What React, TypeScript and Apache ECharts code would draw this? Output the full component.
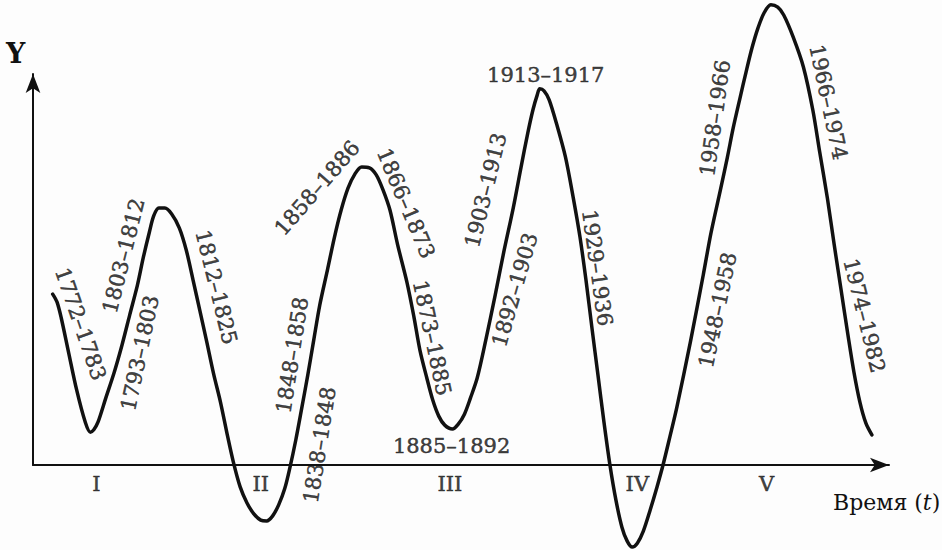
import React, { useEffect, useRef } from "react";
import * as echarts from "echarts";

// Curve of the long waves: abstract time (0..100) vs. level (time axis at 0)
const timeX = [
  2.3, 2.8, 3.3, 4.1, 5.1, 6.1, 6.7, 7.1, 7.6, 8.5, 9.5, 10.4, 11.3, 12.2, 12.9, 13.6,
  14.1, 14.7, 15.4, 16.2, 17.1, 17.9, 18.7, 19.5, 20.3, 21.1, 21.9, 22.7, 23.4, 24.2,
  25.0, 25.8, 26.6, 27.3, 28.0, 28.7, 29.4, 30.0, 30.7, 31.4, 32.1, 32.8, 33.5, 34.4,
  35.2, 36.0, 36.8, 37.6, 38.4, 39.3, 40.1, 40.9, 41.7, 42.6, 43.7, 44.5, 45.2, 46.0,
  46.7, 47.4, 48.1, 49.0, 49.7, 50.4, 51.1, 51.9, 52.9, 54.0, 55.0, 56.1, 57.0, 57.8,
  58.4, 58.9, 59.2, 59.7, 60.3, 61.2, 62.2, 63.1, 63.9, 64.6, 65.3, 66.0, 66.7, 67.4,
  68.1, 68.8, 69.4, 70.0, 70.6, 71.3, 72.1, 72.9, 73.6, 74.4, 75.2, 76.8, 78.3, 79.2,
  80.3, 81.1, 81.8, 82.6, 83.3, 84.0, 84.7, 85.4, 86.2, 87.0, 87.7, 88.8, 90.0, 91.1,
  91.9, 92.8, 93.6, 94.4, 95.2, 95.9, 96.6, 97.3, 98.0
];
const levelY = [
  43.7, 41.7, 37.6, 29.4, 19.2, 11.0, 8.4, 9.0, 11.0, 17.1, 23.8, 30.7, 38.4, 46.0, 53.2, 59.6,
  63.7, 65.7, 65.7, 64.2, 60.6, 55.0, 47.3, 39.4, 31.5, 23.3, 16.1, 7.7, 0.8, -5.6,
  -9.7, -12.5, -14.1, -14.3, -13.0, -10.2, -6.1, -0.8, 6.4, 14.6, 23.0, 32.0, 40.9, 49.9,
  58.1, 65.2, 70.8, 74.4, 76.2, 76.0, 74.2, 70.3, 65.2, 56.3, 46.6, 37.9, 29.4, 22.3,
  16.6, 12.5, 10.2, 9.2, 10.5, 13.0, 17.1, 22.3, 32.0, 43.5, 54.5, 65.7, 76.0, 84.9,
  90.8, 94.6, 96.2, 95.7, 93.4, 87.0, 78.8, 68.5, 58.3, 47.3, 35.0, 23.0, 11.0, 0.0,
  -9.0, -15.9, -19.4, -21.0, -20.0, -16.9, -11.5, -5.6, 0.0, 7.2, 14.6, 31.5, 48.6, 59.3,
  70.3, 78.5, 86.2, 93.9, 100.5, 106.7, 111.8, 115.6, 117.7, 117.1, 115.1, 109.5, 101.8, 90.8,
  80.1, 68.3, 56.3, 44.8, 33.3, 23.8, 16.1, 10.7, 7.7
];

// Period labels along the curve
const periodNames = [
  "1772–1783", "1803–1812", "1793–1803", "1812–1825", "1848–1858", "1838–1848",
  "1858–1886", "1866–1873", "1873–1885", "1885–1892", "1903–1913", "1892–1903",
  "1913–1917", "1929–1936", "1958–1966", "1948–1958", "1966–1974", "1974–1982"
];
const periodX = [5.6, 10.6, 12.5, 21.4, 30.3, 33.5, 33.2, 43.6, 46.6, 48.9, 52.9, 56.3, 59.9, 65.9, 79.7, 80.0, 92.9, 97.1];
const periodY = [36.1, 53.5, 28.6, 45.5, 28.1, 5.1, 70.8, 67.0, 32.5, 4.9, 70.3, 44.8, 99.7, 50.4, 88.7, 39.6, 92.8, 38.2];
const periodAngle = [-71, 76, 78, -76, 81, 81, 49, -67, -78, 0, 76, 74, 0, -82, 82, 78, -78, -76];

// Wave numbers under the time axis
const waveNames = ["I", "II", "III", "IV", "V"];
const waveX = [7.4, 26.6, 48.7, 70.6, 85.7];
const waveY = [-4.9, -4.9, -4.9, -4.9, -4.9];

const INK = "#111111";
const FONT = "DejaVu Serif";

export default function App() {
  const ref = useRef<HTMLDivElement>(null);

  useEffect(() => {
    if (!ref.current) return;
    const chart = echarts.init(ref.current, undefined, { renderer: "svg" });

    const curve = timeX.map((x, i) => [x, levelY[i]]);
    const periods = periodNames.map((n, i) => ({
      name: n,
      value: [periodX[i], periodY[i]],
      label: { rotate: periodAngle[i] },
    }));
    const waves = waveNames.map((n, i) => ({ name: n, value: [waveX[i], waveY[i]] }));

    const axisLine = {
      show: true,
      symbol: ["none", "arrow"],
      symbolSize: [11, 19],
      lineStyle: { color: INK, width: 2 },
    };

    const textLabel = {
      show: true,
      position: "inside",
      formatter: "{b}",
      color: INK,
      fontFamily: FONT,
      fontSize: 21,
      textBorderColor: INK,
      textBorderWidth: 0.5,
    };

    chart.setOption({
      animation: false,
      backgroundColor: "#fdfdfd",
      grid: { left: 33, right: 53, top: 74, bottom: 85 },
      xAxis: {
        type: "value",
        min: 0,
        max: 100,
        axisLine,
        axisTick: { show: false },
        axisLabel: { show: false },
        splitLine: { show: false },
      },
      yAxis: {
        type: "value",
        min: 0,
        max: 100,
        axisLine,
        axisTick: { show: false },
        axisLabel: { show: false },
        splitLine: { show: false },
      },
      series: [
        {
          type: "line",
          data: curve,
          smooth: 0.3,
          clip: false,
          showSymbol: false,
          silent: true,
          lineStyle: { color: INK, width: 3.5, cap: "round", join: "round" },
        },
        {
          type: "scatter",
          data: periods,
          symbolSize: 0,
          clip: false,
          silent: true,
          label: textLabel,
        },
        {
          type: "scatter",
          data: waves,
          symbolSize: 0,
          clip: false,
          silent: true,
          label: textLabel,
        },
      ],
      graphic: [
        {
          type: "text",
          x: 6,
          y: 53,
          silent: true,
          style: {
            text: "Y",
            fill: INK,
            font: `bold 27px "${FONT}"`,
            verticalAlign: "middle",
            align: "left",
          },
        },
        {
          type: "text",
          x: 833,
          y: 502,
          silent: true,
          style: {
            text: "{a|Время (}{b|t}{a|)}",
            verticalAlign: "middle",
            align: "left",
            rich: {
              a: { fontFamily: FONT, fontSize: 22, fill: INK, color: INK },
              b: { fontFamily: FONT, fontSize: 22, fontStyle: "italic", fill: INK, color: INK },
            },
          },
        },
      ],
    });

    return () => chart.dispose();
  }, []);

  return (
    <div
      ref={ref}
      style={{ position: "fixed", left: 0, top: 0, width: 942, height: 550 }}
    />
  );
}
